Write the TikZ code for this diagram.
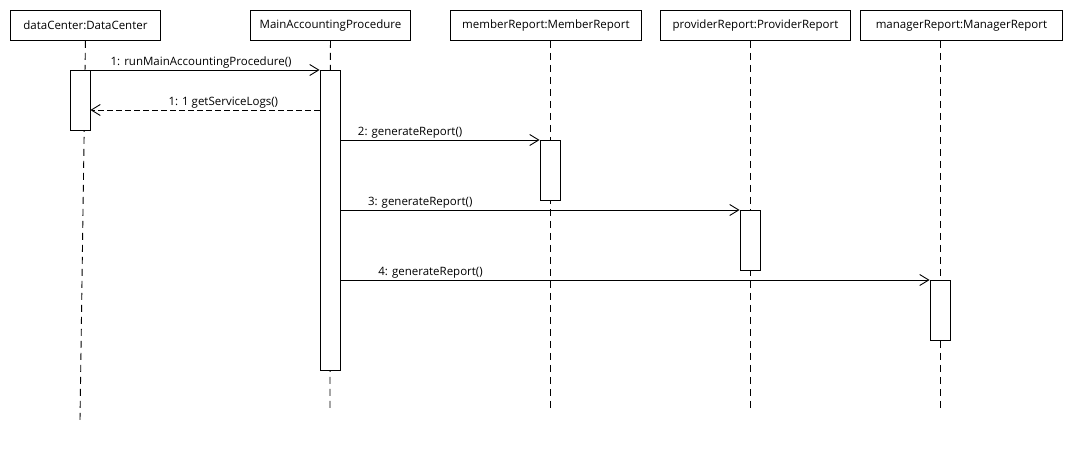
\documentclass[tikz,border=0pt]{standalone}
\usepackage{fontspec}
\setmainfont{Open Sans}
\usetikzlibrary{arrows.meta,calc}
\begin{document}
\begin{tikzpicture}[x=1pt,y=-1pt,
  objbox/.style={draw, line width=0.9pt, fill=white, minimum height=30pt, inner sep=0pt, anchor=north west, font=\fontsize{11.5}{13}\selectfont},
  actbox/.style={draw, line width=0.9pt, fill=white, minimum width=20pt, inner sep=0pt, anchor=north},
  lifeline/.style={line width=0.9pt, dash pattern=on 7pt off 5pt},
  msg/.style={line width=0.9pt, -{Straight Barb[length=9pt,width=11pt,line width=0.9pt]}},
  retmsg/.style={msg, dash pattern=on 6pt off 3pt},
  lbl/.style={font=\fontsize{11.5}{13}\selectfont, above, inner sep=1pt}]
\useasboundingbox[fill=white] (0,0) rectangle (1070,450);
% objects
\node[objbox, minimum width=150pt] (dc) at (10,10) {dataCenter:DataCenter};
\node[objbox, minimum width=160pt] (map) at (250,10) {MainAccountingProcedure};
\node[objbox, minimum width=191pt] (mr) at (450,10) {memberReport:MemberReport};
\node[objbox, minimum width=190pt] (pr) at (660,10) {providerReport:ProviderReport};
\node[objbox, minimum width=202pt] (gr) at (860,10) {managerReport:ManagerReport};
% lifeline ends
\coordinate (dcEnd) at (80,420);
\coordinate (mapEnd) at (330,410);
\coordinate (mrEnd) at (550,410);
\coordinate (prEnd) at (750,410);
\coordinate (grEnd) at (940,410);
\draw[lifeline] (dc.south) -- (dcEnd);
\draw[lifeline] (map.south) -- (mapEnd);
\draw[lifeline] (mr.south -| mrEnd) -- (mrEnd);
\draw[lifeline] (pr.south -| prEnd) -- (prEnd);
\draw[lifeline] (gr.south -| grEnd) -- (grEnd);
% activations
\node[actbox, minimum height=60pt] (dcA) at (80,70) {};
\node[actbox, minimum height=300pt] (mapA) at (330,70) {};
\node[actbox, minimum height=60pt] (mrA) at (550,140) {};
\node[actbox, minimum height=60pt] (prA) at (750,210) {};
\node[actbox, minimum height=60pt] (grA) at (940,280) {};
% message anchors
\coordinate (r1s) at ($(mapA.north west)+(0,40)$);
\coordinate (r1e) at (r1s -| dcA.east);
\coordinate (m2s) at (mapA.east |- mrA.north);
\coordinate (m3s) at (mapA.east |- prA.north);
\coordinate (m4s) at (mapA.east |- grA.north);
% messages
\draw[msg] (dcA.north east) -- node[lbl, pos=0.483] {1: runMainAccountingProcedure()} (mapA.north west);
\draw[retmsg] (r1s) -- node[lbl, pos=0.42] {1: 1 getServiceLogs()} (r1e);
\draw[msg] (m2s) -- node[lbl, pos=0.35] {2: generateReport()} (mrA.north west);
\draw[msg] (m3s) -- node[lbl, pos=0.2] {3: generateReport()} (prA.north west);
\draw[msg] (m4s) -- node[lbl, pos=0.153] {4: generateReport()} (grA.north west);
\end{tikzpicture}
\end{document}
